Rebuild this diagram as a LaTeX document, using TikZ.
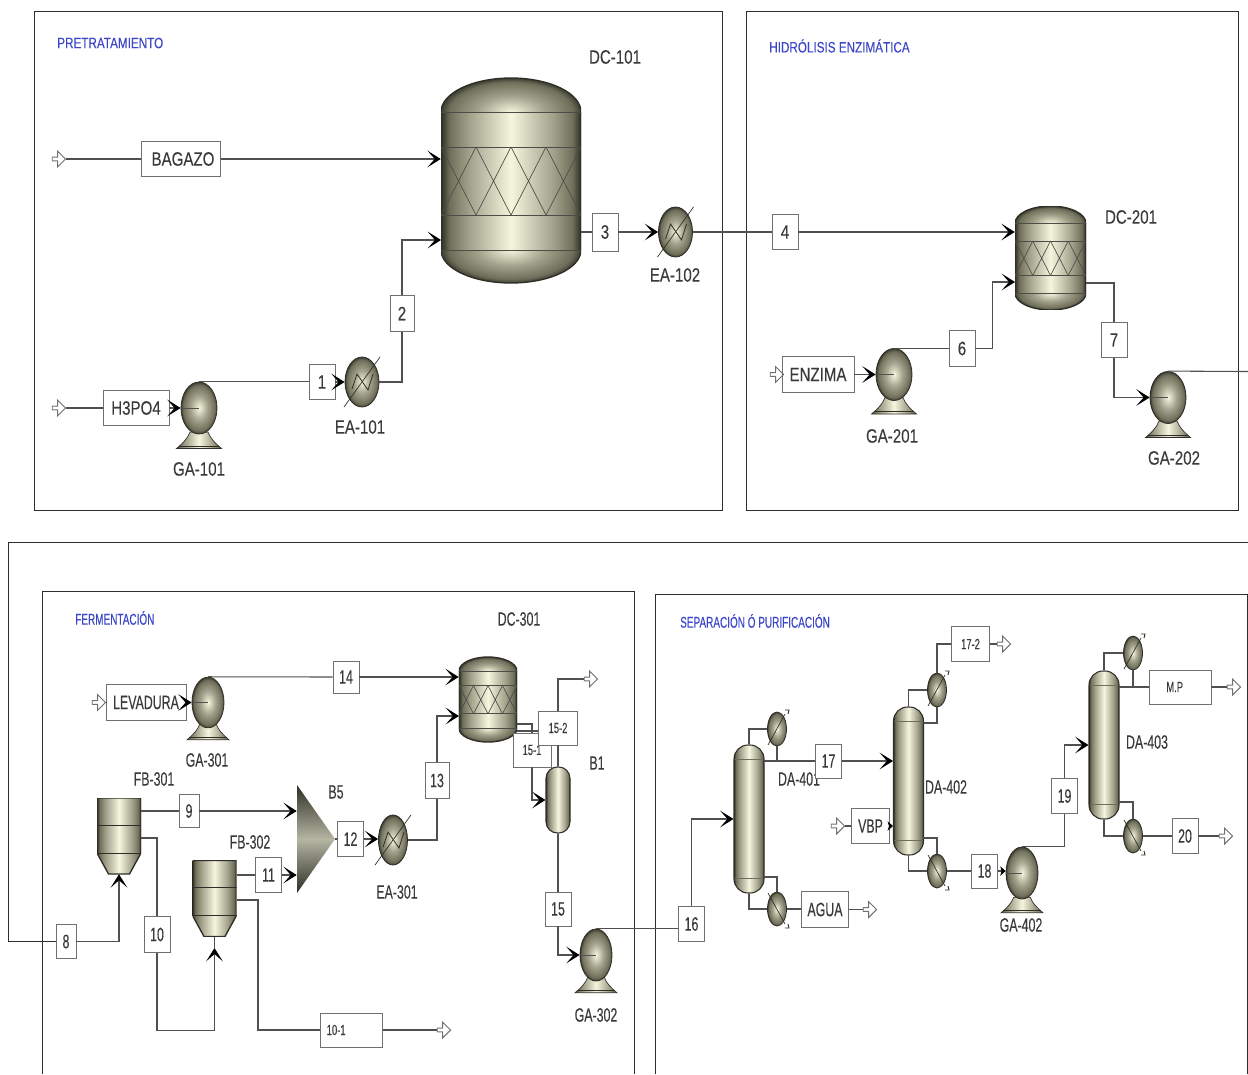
\documentclass[tikz,border=0pt]{standalone}
\usepackage{fontspec}
\usepackage{xcolor}
\usepackage{tikz}
\usetikzlibrary{arrows.meta,shapes.geometric,shapes.arrows}
\setmainfont{Liberation Sans}
\newfontfamily\topfont[FakeStretch=.78,FakeBold=.15]{Liberation Sans}
\newfontfamily\lowfont[FakeStretch=.64,FakeBold=.15]{Liberation Sans}
\definecolor{eqdark}{HTML}{2E2E24}
\definecolor{eqshade}{HTML}{6E6E5A}
\definecolor{eqmid}{HTML}{A2A28C}
\definecolor{eqlight}{HTML}{F6F6DF}
\definecolor{eqline}{HTML}{2E2E26}
\definecolor{pipegray}{HTML}{505050}
\definecolor{boxgray}{HTML}{707070}
\definecolor{textgray}{HTML}{3A3A3A}
\definecolor{titleblue}{HTML}{3C46C8}
\pgfdeclareradialshading{hullball}{\pgfpointorigin}{color(0bp)=(eqlight); color(12bp)=(eqmid); color(22bp)=(eqshade); color(26bp)=(eqdark); color(50bp)=(eqdark)}
\pgfdeclarehorizontalshading{hullbar}{100bp}{color(0bp)=(eqdark); color(25bp)=(eqdark); color(28bp)=(eqshade); color(35bp)=(eqmid); color(50bp)=(eqlight); color(65bp)=(eqmid); color(72bp)=(eqshade); color(75bp)=(eqdark); color(100bp)=(eqdark)}
\tikzset{
  toptext/.style={font=\topfont\fontsize{14.5}{16}\selectfont, text=textgray},
  lowtext/.style={font=\lowfont\fontsize{14.5}{16}\selectfont, text=textgray},
  smalltext/.style={font=\lowfont\fontsize{11}{12}\selectfont, text=textgray},
  toptitle/.style={anchor=west, inner sep=0pt, font=\topfont\fontsize{11.25}{13}\selectfont, text=titleblue},
  lowtitle/.style={anchor=west, inner sep=0pt, font=\lowfont\fontsize{11.7}{13}\selectfont, text=titleblue},
  tag/.style={draw=boxgray, line width=0.7pt, fill=white, inner sep=0pt, minimum width=19.5pt, minimum height=26.5pt},
  panel/.style={draw=eqline, line width=0.7pt},
  pipeline/.style={draw=pipegray, line width=0.8pt},
  flowline/.style={pipeline, -{Stealth[length=10pt, width=12.5pt, inset=5.5pt, color=black]}},
  stubline/.style={pipeline, -{Stealth[length=4pt, width=7pt, inset=1pt, color=black]}},
  port/.style={single arrow, draw=boxgray, fill=white, line width=0.7pt, inner sep=0pt, minimum height=10pt, minimum width=12pt, single arrow head extend=1.2pt},
  hullfill/.style={shade, shading=hullbar},
  pump/.style={ellipse, draw=eqline, line width=0.6pt, inner sep=0pt, minimum width=27pt, minimum height=39pt, shade, shading=hullball,
    path picture={\draw[pipegray, line width=0.7pt] (path picture bounding box.west) -- (path picture bounding box.center);}},
  exchanger/.style={ellipse, draw=eqline, line width=0.6pt, inner sep=0pt, minimum width=25.5pt, minimum height=37.5pt, shade, shading=hullball,
    path picture={\begin{scope}[shift={(path picture bounding box.center)}]
      \draw[eqline, line width=0.6pt] (-10,7) -- (-5,-8) -- (6,8) -- (11,-8);
    \end{scope}}},
  trimmer/.style={ellipse, draw=eqline, line width=0.6pt, inner sep=0pt, minimum width=14.25pt, minimum height=25.5pt, shade, shading=hullball},
  towerhull/.style={rectangle, draw=eqline, line width=0.8pt, inner sep=0pt, rounded corners=10.5pt, hullfill, minimum width=22.5pt, minimum height=111pt},
  towercap/.style={path picture={
    \draw[eqshade, line width=0.3pt] ([yshift=-11pt]path picture bounding box.north west) -- ([yshift=-11pt]path picture bounding box.north east);
    \draw[eqshade, line width=0.3pt] ([yshift=11pt]path picture bounding box.south west) -- ([yshift=11pt]path picture bounding box.south east);}},
  reactor/.style={rectangle, inner sep=0pt, minimum width=#1*105pt, minimum height=#1*153.75pt,
    path picture={\begin{scope}[shift={(path picture bounding box.center)}, x=#1*0.75pt, y=-#1*0.75pt]
      \begin{scope}
        \clip (-71,-104) rectangle (71,-68.5);
        \shade[shading=hullball] (0,-68.5) ellipse [x radius=70, y radius=34];
        \draw[eqline, line width=1pt] (0,-68.5) ellipse [x radius=70, y radius=34];
      \end{scope}
      \begin{scope}
        \clip (-71,69.5) rectangle (71,104);
        \shade[shading=hullball] (0,69.5) ellipse [x radius=70, y radius=33];
        \draw[eqline, line width=1pt] (0,69.5) ellipse [x radius=70, y radius=33];
      \end{scope}
      \shade[hullfill] (-70,-68.5) rectangle (70,69.5);
      \draw[eqline, line width=1pt] (-70,-68.5) -- (-70,69.5) (70,-68.5) -- (70,69.5);
      \draw[eqline!85, line width=0.7pt] (-70,-68.5) -- (70,-68.5) (-70,-33.5) -- (70,-33.5) (-70,34.5) -- (70,34.5) (-70,69.5) -- (70,69.5);
      \foreach \cx in {-70,-35,0,35}
        \draw[eqline!85, line width=0.5pt] (\cx,-33.5) -- ++(35,68) (\cx,34.5) -- ++(35,-68);
    \end{scope}}},
  hopper/.style={rectangle, inner sep=0pt, minimum width=33pt, minimum height=57pt,
    path picture={\begin{scope}[shift={(path picture bounding box.center)}]
      \shade[hullfill] (-22,-38) -- (22,-38) -- (22,17) -- (10.5,38) -- (-10.5,38) -- (-22,17) -- cycle;
      \draw[eqline, line width=1pt] (-22,-38) -- (22,-38) -- (22,17) -- (10.5,38) -- (-10.5,38) -- (-22,17) -- cycle;
      \draw[eqline, line width=0.7pt] (-22,-11) -- (22,-11) (-22,17) -- (22,17);
    \end{scope}}},
  splitter/.style={rectangle, inner sep=0pt, minimum width=28.5pt, minimum height=81pt,
    path picture={\begin{scope}[shift={(path picture bounding box.center)}]
      \shade[top color=eqdark, bottom color=eqdark, middle color=eqmid!80!white] (-19,-54) -- (19,0) -- (-19,54) -- cycle;
    \end{scope}}},
  pics/pumpfoot/.style={code={
    \shade[hullfill, draw=eqline, line width=0.5pt] (-9,23) .. controls (-11,29) and (-16,34) .. (-22.5,39.5) -- (22.5,39.5) .. controls (16,34) and (11,29) .. (9,23) -- cycle;
    \draw[eqline, line width=0.5pt] (-20,37) -- (20,37);
  }},
  pics/hxslash/.style={code={
    \draw[eqline, line width=0.5pt] (-18,25) -- (18,-25);
  }},
  pics/trimup/.style={code={
    \draw[eqline, line width=0.5pt] (-9,16) -- (8,-15);
    \draw[eqline, line width=0.7pt] (8,-19) -- (12,-19) -- (11,-15);
  }},
  pics/trimdown/.style={code={
    \draw[eqline, line width=0.5pt] (-9,-16) -- (8,15);
    \draw[eqline, line width=0.7pt] (8,19) -- (12,19) -- (11,15);
  }},
}
\begin{document}
\begin{tikzpicture}[x=0.75pt, y=-0.75pt]
  \useasboundingbox (0,0) rectangle (1248,1074);
  \draw[panel] (34,11) rectangle (722,510);
  \draw[panel] (746,11) rectangle (1238,510);
  \draw[panel] (42,1074) -- (42,591) -- (634,591) -- (634,1074);
  \draw[panel] (655,1074) -- (655,594) -- (1247,594) -- (1247,1074);
  \node[toptitle] (ttpre) at (57,43) {PRETRATAMIENTO};
  \node[toptitle] (tthid) at (769,46) {HIDRÓLISIS ENZIMÁTICA};
  \node[lowtitle] (ttfer) at (75,618) {FERMENTACIÓN};
  \node[lowtitle] (ttsep) at (680,621) {SEPARACIÓN Ó PURIFICACIÓN};

  \node[reactor=1] (dc101) at (511,180.5) {};
  \node[reactor=0.507] (dc201) at (1050.5,258) {};
  \node[reactor=0.415] (dc301) at (488,699.5) {};
  \node[hopper] (fb301) at (119,836) {};
  \node[hopper] (fb302) at (214.5,898.5) {};
  \node[splitter] (b5) at (316,839) {};
  \node[towerhull, minimum width=18pt, minimum height=49.5pt, rounded corners=8.5pt] (b1) at (558,800) {};
  \node[towerhull, towercap] (da401) at (749,819) {};
  \node[towerhull, towercap] (da402) at (908.5,781) {};
  \node[towerhull, towercap] (da403) at (1104,745) {};

  \pic at (199,409) {pumpfoot};
  \node[pump] (ga101) at (199,408) {};
  \pic at (894,374.5) {pumpfoot};
  \node[pump] (ga201) at (894,374.5) {};
  \pic at (1168,398) {pumpfoot};
  \node[pump] (ga202) at (1168,397.5) {};
  \pic[scale=0.93] at (208,703) {pumpfoot};
  \node[pump, minimum width=24pt, minimum height=38pt] (ga301) at (208,702.5) {};
  \pic[scale=0.93] at (596,956) {pumpfoot};
  \node[pump, minimum width=24pt] (ga302) at (596,955) {};
  \pic[scale=0.93] at (1022,876) {pumpfoot};
  \node[pump, minimum width=24pt] (ga402) at (1022,873) {};

  \node[exchanger] (ea101) at (362,382) {};
  \pic at (362,382) {hxslash};
  \node[exchanger] (ea102) at (675.5,232) {};
  \pic at (675.5,232) {hxslash};
  \node[exchanger, minimum width=21.75pt] (ea301) at (393,840) {};
  \pic at (393,840) {hxslash};
  \node[trimmer] (cd401) at (777,729) {};
  \pic at (777,729) {trimup};
  \node[trimmer] (rb401) at (777,909) {};
  \pic at (777,909) {trimdown};
  \node[trimmer] (cd402) at (937,690) {};
  \pic at (937,690) {trimup};
  \node[trimmer] (rb402) at (937,871) {};
  \pic at (937,871) {trimdown};
  \node[trimmer] (cd403) at (1133,653) {};
  \pic at (1133,653) {trimup};
  \node[trimmer] (rb403) at (1133,836) {};
  \pic at (1133,836) {trimdown};

  \node[toptext] (lbdc101) at (615,57) {DC-101};
  \node[toptext] (lbea101) at (360,427) {EA-101};
  \node[toptext] (lbea102) at (675,275) {EA-102};
  \node[toptext] (lbga101) at (199,469) {GA-101};
  \node[toptext] (lbdc201) at (1131,217) {DC-201};
  \node[toptext] (lbga201) at (892,436) {GA-201};
  \node[toptext] (lbga202) at (1174,458) {GA-202};
  \node[lowtext] (lbdc301) at (519,619) {DC-301};
  \node[lowtext] (lbga301) at (207,760) {GA-301};
  \node[lowtext] (lbfb301) at (154,779) {FB-301};
  \node[lowtext] (lbfb302) at (250,842) {FB-302};
  \node[lowtext] (lbb5) at (336,792) {B5};
  \node[lowtext] (lbea301) at (397,892) {EA-301};
  \node[lowtext] (lbb1) at (597,763) {B1};
  \node[lowtext] (lbga302) at (596,1015) {GA-302};
  \node[lowtext] (lbda401) at (799,779) {DA-401};
  \node[lowtext] (lbda402) at (946,787) {DA-402};
  \node[lowtext] (lbga402) at (1021,925) {GA-402};
  \node[lowtext] (lbda403) at (1147,742) {DA-403};

  \node[tag, toptext, minimum width=59pt] (bagazo) at (181,159) {\hspace*{3pt}BAGAZO};
  \node[tag, toptext, minimum width=49.5pt] (h3po4) at (136,408) {H3PO4};
  \node[tag, toptext] (st1) at (322,382) {1};
  \node[tag, toptext, minimum width=18pt] (st2) at (402,313.5) {2};
  \node[tag, toptext, minimum height=28.5pt] (st3) at (605,232) {3};
  \node[tag, toptext] (st4) at (785,232) {4};
  \node[tag, toptext, minimum width=54pt] (enzima) at (818,374.5) {ENZIMA};
  \node[tag, toptext] (st6) at (962,348.5) {6};
  \node[tag, toptext] (st7) at (1114,340) {7};
  \node[tag, lowtext, minimum width=15pt, minimum height=25pt] (st8) at (66,941.5) {8};
  \node[tag, lowtext, minimum width=15pt, minimum height=25pt] (st9) at (189,811) {9};
  \node[tag, lowtext] (st10) at (157,934.5) {10};
  \node[tag, lowtext] (st11) at (268.5,875) {11};
  \node[tag, lowtext] (st12) at (350.5,839) {12};
  \node[tag, lowtext, minimum width=18pt] (st13) at (437,780.5) {13};
  \node[tag, lowtext, minimum height=24pt] (st14) at (346,677) {14};
  \node[tag, lowtext, minimum width=60pt] (levadura) at (146,702.5) {LEVADURA};
  \node[tag, smalltext, minimum width=28.5pt, minimum height=25.5pt] (st151) at (532,750) {15-1};
  \node[tag, smalltext, minimum width=29pt, minimum height=25.5pt] (st152) at (558,728) {15-2};
  \node[tag, lowtext, minimum height=25.5pt] (st15) at (558,909) {15};
  \node[tag, lowtext] (st16) at (691.5,924) {16};
  \node[tag, smalltext, minimum width=46pt, minimum height=25.5pt] (st101) at (351.5,1030) {10-1\hspace*{23pt}};
  \node[tag, lowtext, minimum height=25.5pt] (st17) at (828.5,761) {17};
  \node[tag, lowtext, minimum width=35pt] (agua) at (825,909.5) {AGUA};
  \node[tag, smalltext, minimum width=28pt] (st172) at (970.5,644) {17-2};
  \node[tag, lowtext, minimum width=28pt] (vbp) at (870.5,826) {VBP};
  \node[tag, lowtext, minimum height=25.5pt] (st18) at (984.5,871) {18};
  \node[tag, lowtext] (st19) at (1064.5,796) {19};
  \node[tag, smalltext, minimum width=46.5pt, minimum height=25.5pt] (mp) at (1180,687) {M.P\hspace*{8pt}};
  \node[tag, lowtext] (st20) at (1185,836) {20};

  \node[port] (pt1) at (58,159) {};
  \node[port] (pt2) at (58,408) {};
  \node[port] (pt3) at (776,374.5) {};
  \node[port] (pt4) at (98,702.5) {};
  \node[port] (pt5) at (443,1030) {};
  \node[port] (pt6) at (590,679) {};
  \node[port] (pt7) at (869,909.5) {};
  \node[port] (pt8) at (837,826) {};
  \node[port] (pt9) at (1003,644) {};
  \node[port] (pt10) at (1233,687) {};
  \node[port] (pt11) at (1225,836) {};

  \coordinate (dc101b) at (441,240);
  \coordinate (dc201b) at (1015,282);
  \coordinate (dc201o) at (1086,283);
  \coordinate (ga202o) at (1248,371.5);
  \coordinate (dc301b) at (459,716);
  \coordinate (dc301o) at (517,724);
  \coordinate (dc301p) at (517,731);
  \coordinate (fb301o) at (141,838);
  \coordinate (fb302o) at (237,900);
  \coordinate (fb302n) at (214.5,948);
  \coordinate (da401u) at (764,761);
  \coordinate (da401d) at (764,877);
  \coordinate (da402u) at (923,723);
  \coordinate (da402d) at (923,838);
  \coordinate (da403u) at (1119,687);
  \coordinate (da403d) at (1119,802);
  \coordinate (framea) at (8,941.5);

  \draw[pipeline] (pt1.east) -- (bagazo.west);
  \draw[flowline] (bagazo.east) -- (bagazo.east -| dc101.west);
  \draw[pipeline] (pt2.east) -- (h3po4.west);
  \draw[flowline] (h3po4.east) -- (ga101.west);
  \draw[pipeline] (ga101.north) -- (ga101.north -| st1.west);
  \draw[flowline] (st1.east) -- (ea101.west);
  \draw[pipeline] (ea101.east) -| (st2.south);
  \draw[flowline] (st2.north) |- (dc101b);
  \draw[pipeline] (st3 -| dc101.east) -- (st3.west);
  \draw[flowline] (st3.east) -- (ea102.west);
  \draw[pipeline] (ea102.east) -- (st4.west);
  \draw[flowline] (st4.east) -- (st4.east -| dc201.west);
  \draw[pipeline] (pt3.east) -- (enzima.west);
  \draw[flowline] (enzima.east) -- (ga201.west);
  \draw[pipeline] (ga201.north) -- (ga201.north -| st6.west);
  \draw[flowline] (st6.east) -- ++(17,0) |- (dc201b);
  \draw[pipeline] (dc201o) -| (st7.north);
  \draw[flowline] (st7.south) |- (ga202.west);
  \draw[pipeline] (ga202.north) -- (ga202o);
  \draw[panel] (st8.west) -- (framea) -- (8,542) -- (1248,542);
  \draw[flowline] (st8.east) -| (fb301.south);
  \draw[pipeline] (st9 -| fb301.east) -- (st9.west);
  \draw[flowline] (st9.east) -- (st9.east -| b5.west);
  \draw[pipeline] (fb301o) -| (st10.north);
  \draw[flowline] (st10.south) -- ++(0,78) -| (fb302n);
  \draw[pipeline] (fb302n) -- (fb302.south);
  \draw[pipeline] (st11 -| fb302.east) -- (st11.west);
  \draw[flowline] (st11.east) -- (st11.east -| b5.west);
  \draw[pipeline] (fb302o) -- ++(21,0) |- (st101.west);
  \draw[pipeline] (st101.east) -- (pt5.west);
  \draw[pipeline] (b5.east) -- (st12.west);
  \draw[flowline] (st12.east) -- (st12.east -| ea301.west);
  \draw[pipeline] (ea301.east) -| (st13.south);
  \draw[flowline] (st13.north) |- (dc301b);
  \draw[pipeline] (pt4.east) -- (levadura.west);
  \draw[flowline] (levadura.east) -- (ga301.west);
  \draw[pipeline] (ga301.north) -- (st14.west);
  \draw[flowline] (st14.east) -- (st14.east -| dc301.west);
  \draw[pipeline] (dc301o) -| (st151.north);
  \draw[flowline] (st151.south) |- (b1.west);
  \draw[pipeline] (dc301p) -- (dc301p -| st152.west);
  \draw[pipeline] (b1.north) -- (st152.south);
  \draw[pipeline] (st152.north) |- (pt6.west);
  \draw[pipeline] (b1.south) -- (st15.north);
  \draw[flowline] (st15.south) |- (ga302.west);
  \draw[pipeline] (ga302.north) -- (ga302.north -| st16.west);
  \draw[flowline] (st16.north) |- (da401.west);
  \draw[pipeline] (da401.north) |- (cd401.west);
  \draw[pipeline] (cd401.south) -- (cd401.south |- da401u);
  \draw[pipeline] (da401u) -- (st17.west);
  \draw[flowline] (st17.east) -- (st17.east -| da402.west);
  \draw[pipeline] (da401.south) |- (rb401.west);
  \draw[pipeline] (da401d) -| (rb401.north);
  \draw[pipeline] (rb401.east) -- (rb401.east -| agua.west);
  \draw[pipeline] (agua.east) -- (pt7.west);
  \draw[pipeline] (pt8.east) -- (vbp.west);
  \draw[stubline] (vbp.east) -- (vbp.east -| da402.west);
  \draw[pipeline] (da402.north) |- (cd402.west);
  \draw[pipeline] (da402u) -| (cd402.south);
  \draw[pipeline] (cd402.north) |- (st172.west);
  \draw[pipeline] (st172.east) -- (pt9.west);
  \draw[pipeline] (da402.south) |- (rb402.west);
  \draw[pipeline] (da402d) -| (rb402.north);
  \draw[pipeline] (rb402.east) -- (st18.west);
  \draw[stubline] (st18.east) -- (st18.east -| ga402.west);
  \draw[pipeline] (ga402.north) -| (st19.south);
  \draw[flowline] (st19.north) |- (da403.west);
  \draw[pipeline] (da403.north) |- (cd403.west);
  \draw[pipeline] (cd403.south) -- (cd403.south |- da403u);
  \draw[pipeline] (da403u) -- (mp.west);
  \draw[pipeline] (mp.east) -- (pt10.west);
  \draw[pipeline] (da403.south) |- (rb403.west);
  \draw[pipeline] (da403d) -| (rb403.north);
  \draw[pipeline] (rb403.east) -- (st20.west);
  \draw[pipeline] (st20.east) -- (pt11.west);
\end{tikzpicture}
\end{document}
